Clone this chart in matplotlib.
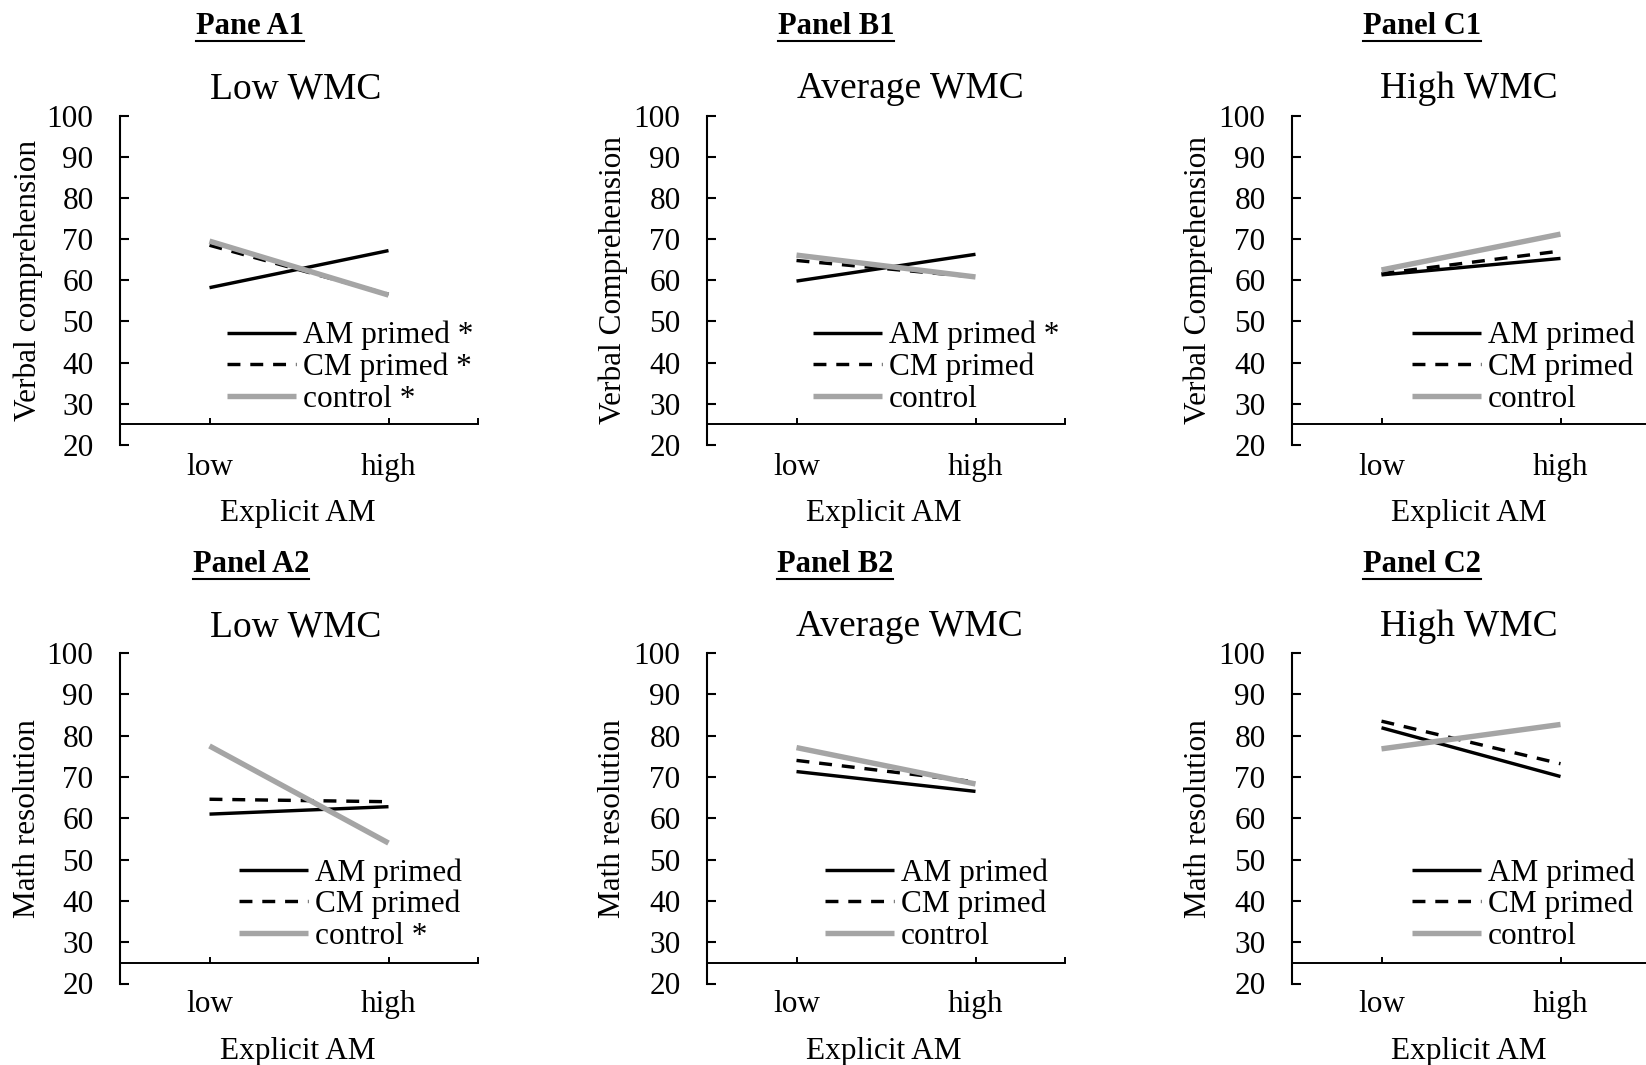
import matplotlib
matplotlib.use("Agg")
import matplotlib.pyplot as plt
from matplotlib.lines import Line2D

plt.rcParams['font.family'] = ['Liberation Serif', 'DejaVu Serif']

W, H = 1646, 1065
DPI = 100

# ---------------- data ----------------
explicit_am = ["low", "high"]
wmc_titles = ["Low WMC", "Average WMC", "High WMC"]
panel_tags_row1 = ["Pane A1", "Panel B1", "Panel C1"]
panel_tags_row2 = ["Panel A2", "Panel B2", "Panel C2"]
ylabels_row1 = ["Verbal comprehension", "Verbal Comprehension", "Verbal Comprehension"]
ylabels_row2 = ["Math resolution", "Math resolution", "Math resolution"]
series_names = ["AM primed", "CM primed", "control"]

# values at (low, high) explicit AM, one pair per WMC level
verbal_am_primed = [(58.2, 67.2), (59.8, 66.3), (61.3, 65.3)]
verbal_cm_primed = [(68.5, 56.6), (64.8, 60.8), (61.6, 67.1)]
verbal_control = [(69.5, 56.4), (66.1, 60.8), (62.5, 71.2)]
math_am_primed = [(61.0, 62.8), (71.3, 66.5), (81.9, 70.1)]
math_cm_primed = [(64.6, 64.0), (74.0, 68.8), (83.5, 73.2)]
math_control = [(77.5, 54.0), (77.1, 68.3), (76.8, 82.7)]

# significance markers for legend entries (AM, CM, control)
verbal_sig = [(True, True, True), (True, False, False), (False, False, False)]
math_sig = [(False, False, True), (False, False, False), (False, False, False)]

y_ticks = [20, 30, 40, 50, 60, 70, 80, 90, 100]

# ---------------- styles ----------------
GRAY = "#A5A5A5"
styles = [dict(color="black", lw=2.45, ls="-"),
          dict(color="black", lw=2.45, ls=(0, (3.8, 2.9))),
          dict(color=GRAY, lw=3.9, ls="-")]

fig = plt.figure(figsize=(W / DPI, H / DPI), dpi=DPI)

col_left = [120, 707, 1292]
ax_w = 358
rows = [dict(top=115.5, bottom=445, tag_base=34.3, ul=41, sub_base=98.5, xl_base=521.3,
             legend_top=321, xpad=20.5),
        dict(top=653, bottom=983.5, tag_base=572.3, ul=578.5, sub_base=636.3, xl_base=1058.5,
             legend_top=858, xpad=19.8)]
legend_x = [[227, 813, 1412], [239, 825, 1412]]
tag_x = [[250, 836, 1422], [251, 835, 1422]]
sub_x = [[296, 910, 1469], [296, 909, 1469]]
xl_x = [298, 884, 1469]
ylab_x = [28, 613, 1198]

def fx(px):
    return px / W

def fy(py):
    return 1 - py / H

renderer = fig.canvas.get_renderer()

all_data = [
    (verbal_am_primed, verbal_cm_primed, verbal_control, verbal_sig, ylabels_row1, panel_tags_row1),
    (math_am_primed, math_cm_primed, math_control, math_sig, ylabels_row2, panel_tags_row2),
]

for r, (am, cm, ctl, sig, ylabs, tags) in enumerate(all_data):
    rw = rows[r]
    for c in range(3):
        left = col_left[c]
        ax = fig.add_axes([fx(left), fy(rw['bottom']), ax_w / W, (rw['bottom'] - rw['top']) / H])
        xs = list(range(len(explicit_am)))
        series = [am[c], cm[c], ctl[c]]
        for i, vals in enumerate(series):
            name = series_names[i] + (" *" if sig[c][i] else "")
            ax.plot(xs, vals, label=name, solid_capstyle='butt', dash_capstyle='butt', **styles[i])
        ax.set_xlim(-0.5, 1.5)
        ax.set_ylim(20, 100)
        ax.set_yticks(y_ticks)
        ax.set_yticklabels([str(v) for v in y_ticks])
        ax.set_xticks([-0.5, 0, 1, 1.5])
        ax.set_xticklabels(["", explicit_am[0], explicit_am[1], ""])
        for s in ["top", "right"]:
            ax.spines[s].set_visible(False)
        ax.spines["bottom"].set_position(("data", 25))
        ax.spines["bottom"].set_linewidth(1.4)
        ax.spines["left"].set_linewidth(1.5)
        ax.tick_params(axis='y', direction='in', length=6.5, width=1.5, labelsize=22.5, pad=19)
        ax.tick_params(axis='x', direction='in', length=4, width=1.4, labelsize=22.5, pad=rw['xpad'])
        ax.patch.set_alpha(0)

        leg = ax.legend(loc='upper left', bbox_to_anchor=(fx(legend_x[r][c]), fy(rw['legend_top'])),
                        bbox_transform=fig.transFigure, frameon=False, fontsize=22.5,
                        handlelength=2.2, handletextpad=0.22, labelspacing=0.075,
                        borderpad=0, borderaxespad=0)

        # panel tag (bold, underlined)
        t = fig.text(fx(tag_x[r][c]), fy(rw['tag_base']), tags[c], ha='center', va='baseline',
                     fontsize=22, fontweight='bold')
        bb = t.get_window_extent(renderer)
        fig.add_artist(Line2D([fx(bb.x0), fx(bb.x1)], [fy(rw['ul']), fy(rw['ul'])],
                              transform=fig.transFigure, color='black', lw=1.5))
        # subtitle
        fig.text(fx(sub_x[r][c]), fy(rw['sub_base']), wmc_titles[c], ha='center', va='baseline',
                 fontsize=27)
        # x label
        fig.text(fx(xl_x[c]), fy(rw['xl_base']), "Explicit AM", ha='center', va='baseline',
                 fontsize=22.5)
        # y label
        fig.text(fx(ylab_x[c]), fy((rw['top'] + rw['bottom']) / 2), ylabs[c], rotation=90,
                 ha='center', va='center', fontsize=22.5)

fig.savefig("out.png", dpi=DPI)
